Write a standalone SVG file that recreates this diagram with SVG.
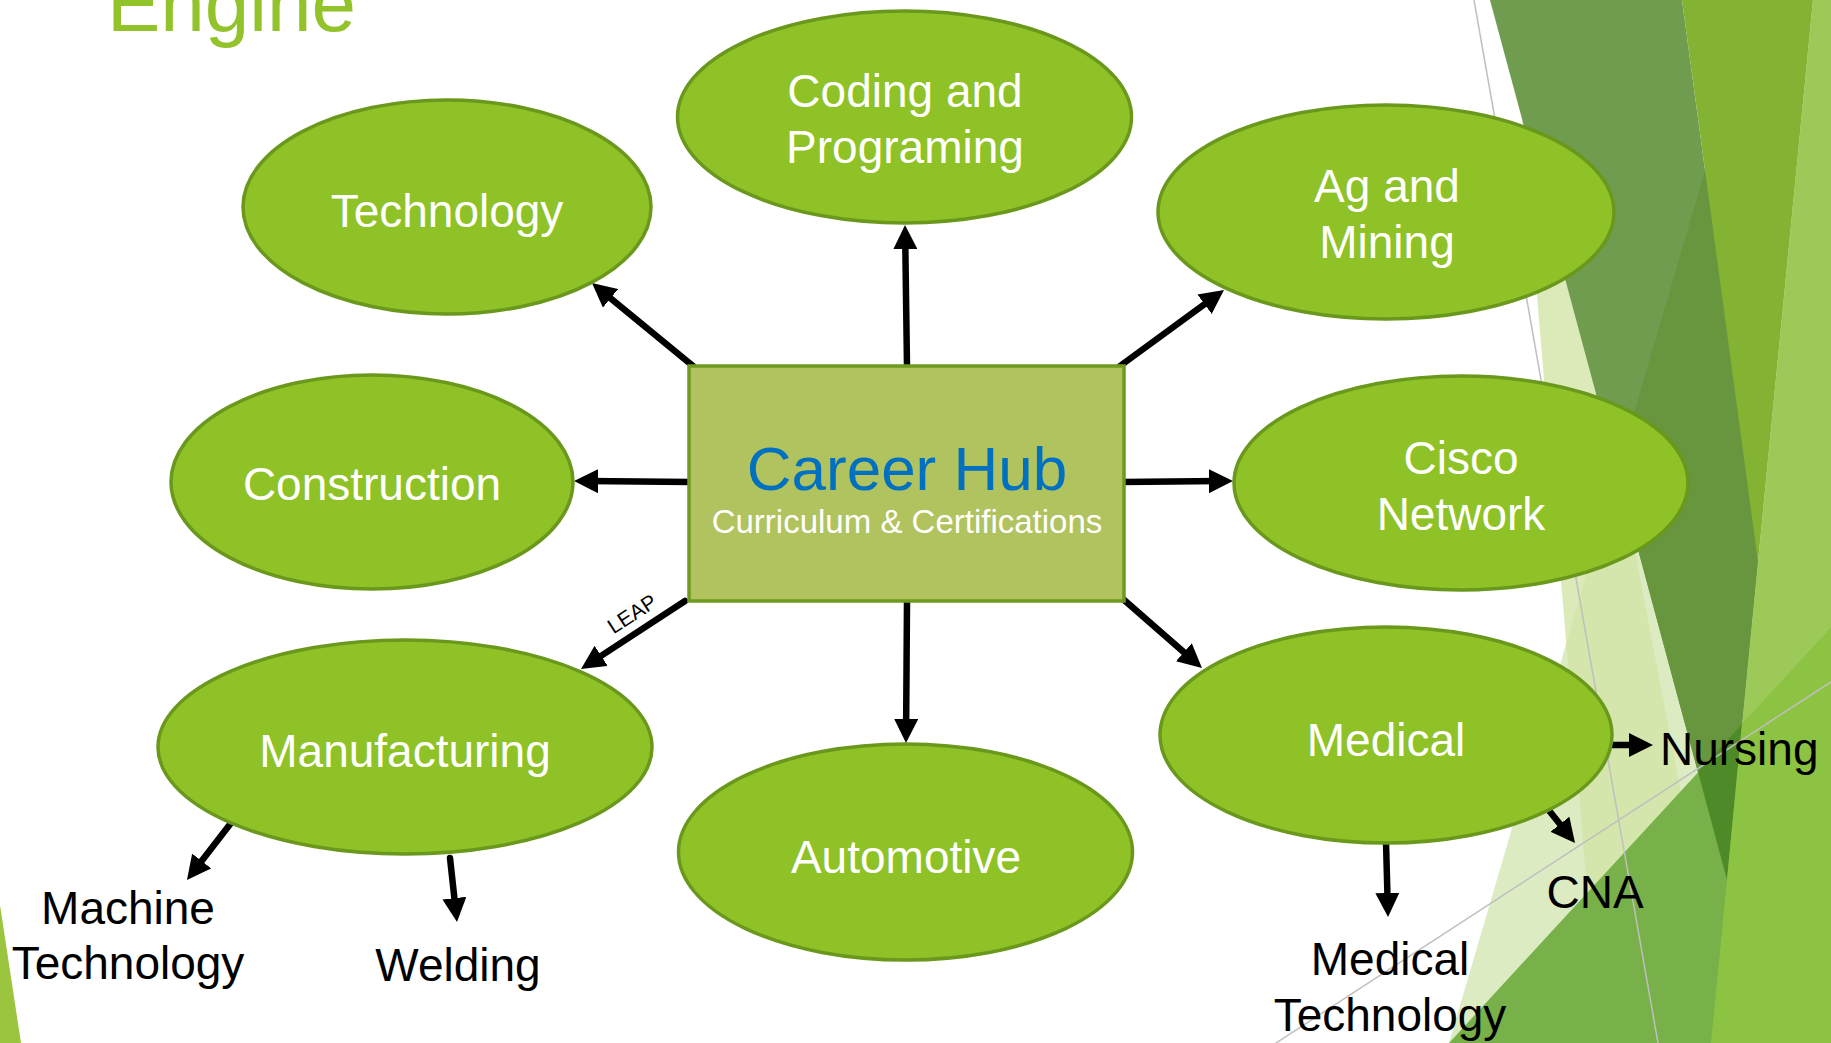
<svg xmlns="http://www.w3.org/2000/svg" width="1831" height="1043" viewBox="0 0 1831 1043">
  <defs>
    <style>
      .node { fill: #8FC227; stroke: #6A981C; stroke-width: 3.5; }
      .hub { fill: #B0C35F; stroke: #6F9A1F; stroke-width: 3.5; }
      .lbl { font-family: "Liberation Sans", Arial, sans-serif; font-size: 46px; fill: #FFFFFF; text-anchor: middle; }
      .sub { font-family: "Liberation Sans", Arial, sans-serif; font-size: 46px; fill: #000000; text-anchor: middle; }
      .sub-start { font-family: "Liberation Sans", Arial, sans-serif; font-size: 46px; fill: #000000; text-anchor: start; }
      .conn { stroke: #000000; stroke-width: 6.5; stroke-linecap: round; fill: none; marker-end: url(#arrow); }
      .thin { stroke: #BFBFBF; stroke-width: 1.5; fill: none; }
    </style>
    <marker id="arrow" viewBox="0 0 10 10" refX="4.6" refY="5" markerWidth="3.7" markerHeight="3.7" orient="auto">
      <path d="M0,0 L10,5 L0,10 z" fill="#000000"/>
    </marker>
  </defs>

  <rect x="0" y="0" width="1831" height="1043" fill="#FFFFFF"/>

  <g id="background">
    <polygon points="1755,0 1831,0 1831,1043 1449,1043" fill="#DDEBC3"/>
    <polygon points="1512,0 1530,0 1690,840 1650,1043 1600,1043" fill="#D2E5A6" opacity="0.8"/>
    <polygon points="1490,0 1682,0 1758,562 1727,880" fill="#709C50"/>
    <polygon points="1755,0 1758,562 1727,880 1617,471" fill="#67963E"/>
    <polygon points="1682,0 1813,0 1758,562" fill="#84B232"/>
    <polygon points="1813,0 1831,0 1831,1043 1711,1043 1758,562" fill="#9CC957"/>
    <polygon points="1449,1043 1831,628 1831,1043" fill="#78B14A"/>
    <polygon points="1698,772 1742,724 1727,880" fill="#4E8A28"/>
    <polygon points="1742,724 1831,628 1831,1043 1711,1043 1727,880" fill="#8DC342"/>
    <line class="thin" x1="1474" y1="0" x2="1658" y2="1043"/>
    <line class="thin" x1="1273" y1="1045" x2="1831" y2="682"/>
    <polygon points="0,905 21,1043 0,1043" fill="#9BC53E"/>
  </g>

  <text x="107" y="31" font-family="'Liberation Sans', Arial, sans-serif" font-size="80" fill="#92C32A">Engine</text>

  <g id="connectors">
    <line class="conn" x1="693" y1="366" x2="602" y2="291.3"/>
    <line class="conn" x1="907" y1="366" x2="905.2" y2="238"/>
    <line class="conn" x1="1120" y1="366" x2="1213.5" y2="297.7"/>
    <line class="conn" x1="690" y1="482" x2="587" y2="481.1"/>
    <line class="conn" x1="1123" y1="482" x2="1220" y2="481.1"/>
    <line class="conn" x1="1123" y1="599" x2="1192.2" y2="659.5"/>
    <line class="conn" x1="907" y1="601" x2="906.1" y2="730"/>
    <line class="conn" x1="685" y1="601" x2="591.9" y2="661.9"/>
    <line class="conn" x1="231" y1="823" x2="194.9" y2="869.7"/>
    <line class="conn" x1="450" y1="858" x2="455.6" y2="909.1"/>
    <line class="conn" x1="1386" y1="842" x2="1387.7" y2="904"/>
    <line class="conn" x1="1547" y1="808" x2="1566.9" y2="832.8"/>
    <line class="conn" x1="1611" y1="745" x2="1640" y2="745"/>
    <text transform="translate(636,620) rotate(-33)" font-family="'Liberation Sans', Arial, sans-serif" font-size="21" text-anchor="middle" fill="#000000">LEAP</text>
  </g>

  <g id="hub">
    <rect class="hub" x="689" y="366" width="435" height="235"/>
    <text x="907" y="490" font-family="'Liberation Sans', Arial, sans-serif" font-size="62" fill="#0070C0" text-anchor="middle">Career Hub</text>
    <text x="907" y="533" font-family="'Liberation Sans', Arial, sans-serif" font-size="33" fill="#FFFFFF" text-anchor="middle">Curriculum &amp; Certifications</text>
  </g>

  <g id="technology">
    <ellipse class="node" cx="447" cy="207" rx="204" ry="107"/>
    <text class="lbl" x="447" y="227">Technology</text>
  </g>
  <g id="coding">
    <ellipse class="node" cx="904.5" cy="117" rx="227" ry="106"/>
    <text class="lbl" x="905" y="107">Coding and</text>
    <text class="lbl" x="905" y="163">Programing</text>
  </g>
  <g id="ag-mining">
    <ellipse class="node" cx="1386" cy="212" rx="228" ry="107"/>
    <text class="lbl" x="1387" y="202">Ag and</text>
    <text class="lbl" x="1387" y="258">Mining</text>
  </g>
  <g id="construction">
    <ellipse class="node" cx="372" cy="482" rx="201" ry="107"/>
    <text class="lbl" x="372" y="500">Construction</text>
  </g>
  <g id="cisco">
    <ellipse class="node" cx="1461" cy="483" rx="227" ry="107"/>
    <text class="lbl" x="1461" y="474">Cisco</text>
    <text class="lbl" x="1461" y="530">Network</text>
  </g>
  <g id="manufacturing">
    <ellipse class="node" cx="405" cy="747" rx="247" ry="107"/>
    <text class="lbl" x="405" y="767">Manufacturing</text>
  </g>
  <g id="automotive">
    <ellipse class="node" cx="905.5" cy="852" rx="227" ry="108"/>
    <text class="lbl" x="906" y="873">Automotive</text>
  </g>
  <g id="medical">
    <ellipse class="node" cx="1386" cy="735" rx="226" ry="108"/>
    <text class="lbl" x="1386" y="756">Medical</text>
  </g>

  <g id="machine-technology">
    <text class="sub" x="128" y="924">Machine</text>
    <text class="sub" x="128" y="979">Technology</text>
  </g>
  <g id="welding">
    <text class="sub" x="458" y="981">Welding</text>
  </g>
  <g id="medical-technology">
    <text class="sub" x="1390" y="975">Medical</text>
    <text class="sub" x="1390" y="1031">Technology</text>
  </g>
  <g id="cna">
    <text class="sub" x="1595" y="908">CNA</text>
  </g>
  <g id="nursing">
    <text class="sub-start" x="1660" y="765">Nursing</text>
  </g>
</svg>
